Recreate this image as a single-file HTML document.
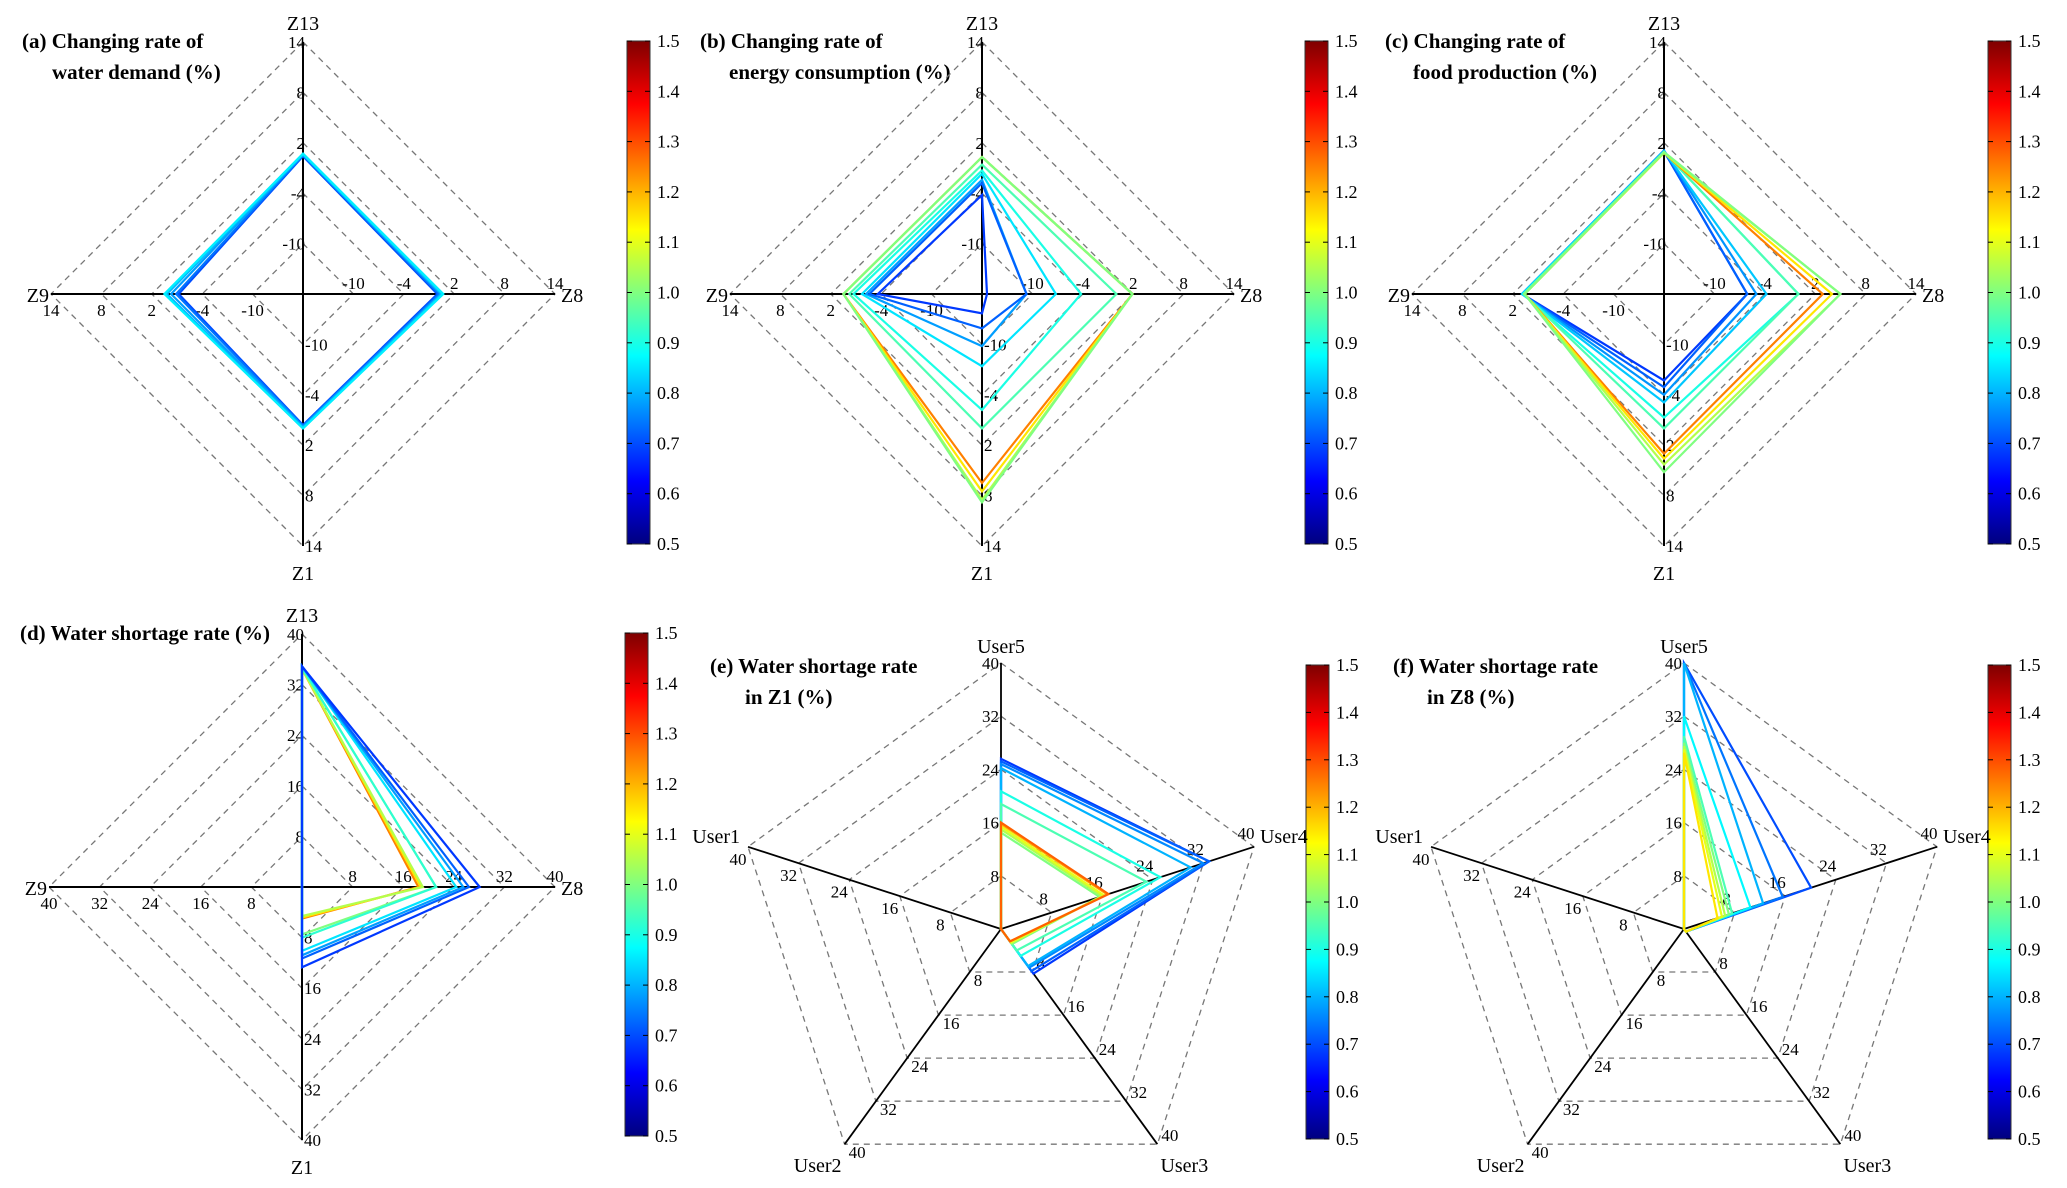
<!DOCTYPE html>
<html><head><meta charset="utf-8"><title>Radar charts</title>
<style>
html,body{margin:0;padding:0;background:#fff;}
svg{display:block;}
svg text{font-family:"Liberation Serif","Times New Roman",serif;}
.tick{font-size:17px;fill:#000;font-family:"Liberation Serif",serif;}
.ax{font-size:20px;fill:#000;font-family:"Liberation Serif",serif;}
.ttl{font-size:21px;font-weight:bold;fill:#000;font-family:"Liberation Serif",serif;}
.cbl{font-size:18px;fill:#000;font-family:"Liberation Serif",serif;}
</style></head>
<body>
<svg id="fig" xmlns="http://www.w3.org/2000/svg" width="2067" height="1188" viewBox="0 0 2067 1188" font-family="Liberation Serif, serif">
<defs>
<linearGradient id="jetgrad" x1="0" y1="1" x2="0" y2="0">
<stop offset="0" stop-color="#00007f"/><stop offset="0.125" stop-color="#0000ff"/>
<stop offset="0.375" stop-color="#00ffff"/><stop offset="0.625" stop-color="#ffff00"/>
<stop offset="0.875" stop-color="#ff0000"/><stop offset="1" stop-color="#7f0000"/>
</linearGradient>
</defs>
<text class="ttl" x="22" y="48">(a) Changing rate of</text>
<text class="ttl" x="52" y="79">water demand (%)</text>
<text class="ttl" x="700" y="48">(b) Changing rate of</text>
<text class="ttl" x="729" y="79">energy consumption (%)</text>
<text class="ttl" x="1385" y="48">(c) Changing rate of</text>
<text class="ttl" x="1413" y="79">food production (%)</text>
<text class="ttl" x="20" y="640">(d) Water shortage rate (%)</text>
<text class="ttl" x="710" y="673">(e) Water shortage rate</text>
<text class="ttl" x="745" y="704">in Z1 (%)</text>
<text class="ttl" x="1393" y="673">(f) Water shortage rate</text>
<text class="ttl" x="1427" y="704">in Z8 (%)</text>
</svg>
<script>
// ---- data ----
const diamondAxes = ['Z13','Z8','Z1','Z9'];
const pentaAxes = ['User5','User4','User3','User2','User1'];
const ringTicksZ = [-10,-4,2,8,14];
const ringTicksW = [8,16,24,32,40];
const cbTicks = [0.5,0.6,0.7,0.8,0.9,1.0,1.1,1.2,1.3,1.4,1.5];

const aColor = [0.7,0.74,0.78,0.8,0.83,0.86];
const aZ13 = [0.4,0.5,0.6,0.6,0.7,0.7];
const aZ8  = [0.0,0.2,0.4,0.5,0.6,0.7];
const aZ1  = [-0.4,-0.3,-0.2,-0.1,0,0];
const aZ9  = [-1.2,-0.9,-0.3,0.2,0.4,0.5];

const bColor = [1.25,1.15,1.05,1.0,0.95,0.9,0.85,0.78,0.72,0.68];
const bZ13 = [0.3,0.3,0.3,0.3,-0.6,-1.3,-1.7,-2.4,-2.8,-4.2];
const bZ8  = [1.9,1.9,1.9,1.9,0,-4.2,-7.2,-10.7,-10.7,-15.4];
const bZ1  = [6.5,7.5,8.5,8.8,0,-2.2,-7.4,-9.8,-11.9,-13.7];
const bZ9  = [0.5,0.5,0.5,0.5,-0.2,-0.7,-1.7,-2.2,-2.6,-3.6];

const cColor = [0.68,0.72,0.77,0.82,0.9,0.95,1.25,1.15,1.05,1.0];
const cZ13 = [1.0,1.0,1.1,1.0,0.9,0.9,0.8,0.8,0.8,0.9];
const cZ8  = [-6.1,-6.1,-5,-3.8,0,0,2.9,4,5,5];
const cZ1  = [-5.7,-4.9,-4,-3.1,-1.3,0,3,3.6,4.3,5.2];
const cZ9  = [0.9,0.9,0.9,0.9,0.8,0.7,0.6,0.6,0.6,0.6];

const dColor = [1.25,1.15,1.05,1.0,0.92,0.85,0.78,0.72,0.68];
const dZ13 = [34.5,34.5,34.5,34.7,34.7,34.9,34.9,34.9,34.9];
const dZ8  = [18.4,18.8,19.1,21.2,21.2,24.4,25.5,26.4,28.1];
const dZ1  = [5,4.8,4.6,7.5,8,10.1,10.8,11.3,12.7];
const dZ9  = [0,0,0,0,0,0,0,0,0];

const eColor = [0.68,0.72,0.76,0.8,0.9,0.95,1.0,1.05,1.1,1.2,1.28];
const eU5 = [25.6,25.2,24.8,24.2,20.7,18.8,14.5,15,15.4,15.8,16];
const eU4 = [32.9,32.9,32,30,25.2,23,15.6,16,16.3,16.8,17];
const eU3 = [8.3,7.8,7.2,6.9,5,4,2.8,2.6,2.5,2.3,2.3];
const eU2 = [0,0,0,0,0,0,0,0,0,0,0];
const eU1 = [0,0,0,0,0,0,0,0,0,0,0];

const fColor = [0.7,0.74,0.8,0.87,0.95,1.0,1.05,1.1,1.15];
const fU5 = [40,40,40,32,29,28,27.5,27,26.5];
const fU4 = [20.1,15.6,12.5,10.5,7.6,7.1,6.5,6,5.3];
const fU3 = [0.5,0.5,0.5,0.5,0.5,0.5,0.5,0.5,0.5];
const fU2 = [0,0,0,0,0,0,0,0,0];
const fU1 = [0,0,0,0,0,0,0,0,0];

// ---- drawing ----
const svg = document.getElementById('fig');
const NS = 'http://www.w3.org/2000/svg';
function mk(tag, attrs, parent){
  const e = document.createElementNS(NS, tag);
  for (const k in attrs) e.setAttribute(k, attrs[k]);
  (parent||svg).appendChild(e);
  return e;
}
function cl(v){return Math.max(0,Math.min(1,v));}
function jet(v){
  const t = (v-0.5)/1.0;
  const r = cl(Math.min(4*t-1.5,-4*t+4.5)), g = cl(Math.min(4*t-0.5,-4*t+3.5)), b = cl(Math.min(4*t+0.5,-4*t+2.5));
  return 'rgb('+Math.round(r*255)+','+Math.round(g*255)+','+Math.round(b*255)+')';
}
function radial(v,min,max,R){return (v-min)/(max-min)*R;}

function colorbar(id,x,y0,y1){
  const g = mk('g',{});
  
  
  mk('rect',{x:x,y:y0,width:23,height:y1-y0,fill:'url(#jetgrad)',stroke:'#333','stroke-width':1},g);
  cbTicks.forEach(t=>{
    const y = y1-(t-0.5)/1.0*(y1-y0);
    mk('line',{x1:x+23,y1:y,x2:x+18,y2:y,stroke:'#000','stroke-width':1},g);
    mk('line',{x1:x,y1:y,x2:x+5,y2:y,stroke:'#000','stroke-width':1},g);
    const tx = mk('text',{x:x+30,y:y+6,class:'cbl'},g);
    
    
    tx.textContent = t.toFixed(1);
  });
}

function diamond(id,cx,cy,R,min,max,ticks,colors,series){
  const g = mk('g',{});
  
  
  const ang = [-Math.PI/2,0,Math.PI/2,Math.PI];
  ticks.forEach(t=>{
    const r = radial(t,min,max,R);
    const pts = ang.map(a=>(cx+r*Math.cos(a)).toFixed(1)+','+(cy+r*Math.sin(a)).toFixed(1)).join(' ');
    const p = mk('polygon',{points:pts,fill:'none',stroke:'#777','stroke-width':1.3,'stroke-dasharray':'6,5'},g);
    
    
  });
  const h = mk('line',{x1:cx-R,y1:cy,x2:cx+R,y2:cy,stroke:'#000','stroke-width':2},g);
  
  
  const v = mk('line',{x1:cx,y1:cy-R,x2:cx,y2:cy+R,stroke:'#000','stroke-width':2},g);
  
  
  ticks.forEach(t=>{
    const r = radial(t,min,max,R), s = String(t);
    const spec = [[cx+2,cy-r+6,'end'],[cx+r,cy-5,'middle'],[cx+2,cy+r+6,'start'],[cx-r,cy+22,'middle']];
    spec.forEach(sp=>{
      const tx = mk('text',{x:sp[0],y:sp[1],'text-anchor':sp[2],class:'tick'},g);
      
      
      tx.textContent = s;
    });
  });
  const labs = [[cx,cy-R-12,'middle'],[cx+R+6,cy+8,'start'],[cx,cy+R+34,'middle'],[cx-R-2,cy+8,'end']];
  diamondAxes.forEach((n,i)=>{
    const tx = mk('text',{x:labs[i][0],y:labs[i][1],'text-anchor':labs[i][2],class:'ax'},g);
    
    
    tx.textContent = n;
  });
  colors.forEach((c,k)=>{
    const pts = series.map((arr,i)=>{const r = radial(arr[k],min,max,R); return (cx+r*Math.cos(ang[i])).toFixed(1)+','+(cy+r*Math.sin(ang[i])).toFixed(1);}).join(' ');
    const p = mk('polygon',{points:pts,fill:'none',stroke:jet(c),'stroke-width':2.2,'stroke-linejoin':'miter'},g);
    
    
  });
}

function penta(id,cx,cy,R,colors,series){
  const g = mk('g',{});
  
  
  const ang = [0,1,2,3,4].map(k=>(-90+72*k)*Math.PI/180);
  ringTicksW.forEach(t=>{
    const r = radial(t,0,40,R);
    const pts = ang.map(a=>(cx+r*Math.cos(a)).toFixed(1)+','+(cy+r*Math.sin(a)).toFixed(1)).join(' ');
    const p = mk('polygon',{points:pts,fill:'none',stroke:'#777','stroke-width':1.3,'stroke-dasharray':'6,5'},g);
    
    
  });
  ang.forEach((a,i)=>{
    const l = mk('line',{x1:cx,y1:cy,x2:cx+R*Math.cos(a),y2:cy+R*Math.sin(a),stroke:'#000','stroke-width':1.8},g);
    
    
  });
  const offs = [[-2,6,'end'],[-8,-8,'middle'],[4,-3,'start'],[4,14,'start'],[-10,18,'middle']];
  ringTicksW.forEach(t=>{
    const r = radial(t,0,40,R);
    ang.forEach((a,i)=>{
      const tx = mk('text',{x:cx+r*Math.cos(a)+offs[i][0],y:cy+r*Math.sin(a)+offs[i][1],'text-anchor':offs[i][2],class:'tick'},g);
      
      
      tx.textContent = String(t);
    });
  });
  const lo = [[0,-10,'middle'],[6,-4,'start'],[27,28,'middle'],[-27,28,'middle'],[-8,-4,'end']];
  pentaAxes.forEach((n,i)=>{
    const tx = mk('text',{x:cx+R*Math.cos(ang[i])+lo[i][0],y:cy+R*Math.sin(ang[i])+lo[i][1],'text-anchor':lo[i][2],class:'ax'},g);
    
    
    tx.textContent = n;
  });
  colors.forEach((c,k)=>{
    const pts = series.map((arr,i)=>{const r = radial(arr[k],0,40,R); return (cx+r*Math.cos(ang[i])).toFixed(1)+','+(cy+r*Math.sin(ang[i])).toFixed(1);}).join(' ');
    const p = mk('polygon',{points:pts,fill:'none',stroke:jet(c),'stroke-width':2.2},g);
    
    
  });
}

colorbar('a',627,41,544);
colorbar('b',1305,41,544);
colorbar('c',1988,41,544);
colorbar('d',625,633,1136);
colorbar('e',1306,665,1139);
colorbar('f',1988,665,1139);
diamond('a',303,294,252,-16,14,ringTicksZ,aColor,[aZ13,aZ8,aZ1,aZ9]);
diamond('b',982,294,252,-16,14,ringTicksZ,bColor,[bZ13,bZ8,bZ1,bZ9]);
diamond('c',1664,294,252,-16,14,ringTicksZ,cColor,[cZ13,cZ8,cZ1,cZ9]);
diamond('d',302,887,253,0,40,ringTicksW,dColor,[dZ13,dZ8,dZ1,dZ9]);
penta('e',1001,929,266,eColor,[eU5,eU4,eU3,eU2,eU1]);
penta('f',1684,929,266,fColor,[fU5,fU4,fU3,fU2,fU1]);
</script>
</body></html>
